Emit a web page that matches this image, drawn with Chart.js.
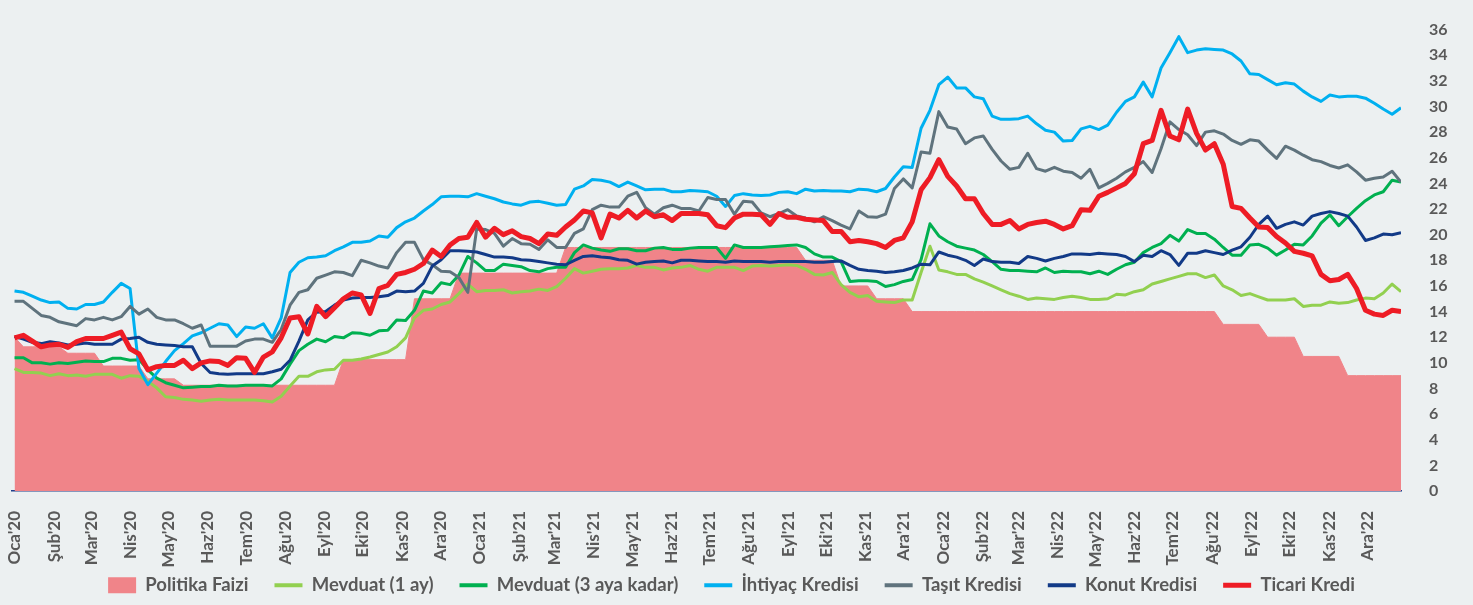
<!DOCTYPE html>
<html>
<head>
<meta charset="utf-8">
<script src="https://cdn.jsdelivr.net/npm/chart.js@4.4.1/dist/chart.umd.min.js"></script>
<style>
  html, body { margin: 0; padding: 0; background: #ECF0F1; }
  #wrap { width: 1473px; height: 605px; position: relative; }
</style>
</head>
<body>
<div id="wrap"><canvas id="grafik"></canvas></div>
<script>
// Haftalık veriler: 3 Oca 2020'den 30 Ara 2022'ye (157 hafta)
const ilkGun = 2; // 1 Oca 2020'den itibaren gün sayısı (3 Oca 2020)

const aylar = [
  "Oca'20", "Şub'20", "Mar'20", "Nis'20", "May'20", "Haz'20", "Tem'20", "Ağu'20", "Eyl'20", "Eki'20", "Kas'20", "Ara'20",
  "Oca'21", "Şub'21", "Mar'21", "Nis'21", "May'21", "Haz'21", "Tem'21", "Ağu'21", "Eyl'21", "Eki'21", "Kas'21", "Ara'21",
  "Oca'22", "Şub'22", "Mar'22", "Nis'22", "May'22", "Haz'22", "Tem'22", "Ağu'22", "Eyl'22", "Eki'22", "Kas'22", "Ara'22"
];

const yTikler = [0, 2, 4, 6, 8, 10, 12, 14, 16, 18, 20, 22, 24, 26, 28, 30, 32, 34, 36];

const politikaFaizi = [
  12, 11.25, 11.25, 11.25, 11.25, 11.25, 10.75, 10.75, 10.75, 10.75,
  9.75, 9.75, 9.75, 9.75, 9.75, 8.75, 8.75, 8.75, 8.75, 8.25,
  8.25, 8.25, 8.25, 8.25, 8.25, 8.25, 8.25, 8.25, 8.25, 8.25,
  8.25, 8.25, 8.25, 8.25, 8.25, 8.25, 8.25, 10.25, 10.25, 10.25,
  10.25, 10.25, 10.25, 10.25, 10.25, 15, 15, 15, 15, 15,
  17, 17, 17, 17, 17, 17, 17, 17, 17, 17,
  17, 17, 19, 19, 19, 19, 19, 19, 19, 19,
  19, 19, 19, 19, 19, 19, 19, 19, 19, 19,
  19, 19, 19, 19, 19, 19, 19, 19, 19, 18,
  18, 18, 18, 16, 16, 16, 16, 15, 15, 15,
  15, 14, 14, 14, 14, 14, 14, 14, 14, 14,
  14, 14, 14, 14, 14, 14, 14, 14, 14, 14,
  14, 14, 14, 14, 14, 14, 14, 14, 14, 14,
  14, 14, 14, 14, 14, 14, 13, 13, 13, 13,
  13, 12, 12, 12, 12, 10.5, 10.5, 10.5, 10.5, 10.5,
  9, 9, 9, 9, 9, 9, 9
];

const mevduat1Ay = [
  9.55, 9.25, 9.25, 9.2, 9.0, 9.15, 9.0, 9.05, 8.95, 9.1, 9.1, 9.1, 8.8, 9.0, 8.95, 8.55, 8.05, 7.35, 7.3, 7.15, 7.1, 7.0, 7.1,
  7.15, 7.1, 7.1, 7.1, 7.1, 7.05, 6.95, 7.4, 8.2, 8.95, 8.95, 9.3, 9.45, 9.5, 10.2, 10.2, 10.3, 10.45, 10.65, 10.85, 11.25, 11.95,
  13.5, 14.1, 14.2, 14.55, 14.75, 15.4, 16.15, 15.55, 15.65, 15.65, 15.7, 15.45, 15.55, 15.6, 15.75, 15.65, 15.95, 16.6, 17.35, 17.0, 17.15, 17.3, 17.35,
  17.35, 17.4, 17.6, 17.45, 17.45, 17.25, 17.4, 17.45, 17.6, 17.3, 17.15, 17.45, 17.45, 17.45, 17.2, 17.55, 17.6, 17.55, 17.6, 17.65, 17.6, 17.3,
  16.9, 16.85, 17.05, 16.1, 15.5, 15.15, 15.25, 14.8, 14.75, 14.7, 14.9, 14.9, 17.05, 19.1, 17.25, 17.1, 16.9, 16.9, 16.55, 16.3, 16.0, 15.7, 15.4,
  15.2, 14.95, 15.05, 15.0, 14.95, 15.1, 15.2, 15.1, 14.95, 14.95, 15.0, 15.35, 15.3, 15.55, 15.7, 16.15, 16.35, 16.55, 16.75, 16.95, 16.95, 16.65,
  16.85, 16.0, 15.7, 15.25, 15.4, 15.15, 14.9, 14.9, 14.9, 15.0, 14.4, 14.5, 14.5, 14.75, 14.65, 14.7, 14.9, 15.05, 15.0, 15.45, 16.15, 15.55
];

const mevduat3Ay = [
  10.4, 10.4, 10.0, 10.0, 9.9, 10.0, 9.95, 10.05, 10.15, 10.1, 10.1, 10.35, 10.35, 10.2, 10.25, 9.45, 8.8, 8.45, 8.25, 8.05, 8.1, 8.15, 8.15,
  8.25, 8.2, 8.2, 8.25, 8.25, 8.25, 8.2, 8.75, 9.9, 10.95, 11.45, 11.85, 11.65, 12.05, 11.95, 12.35, 12.3, 12.15, 12.5, 12.55, 13.35, 13.3,
  14.1, 15.6, 15.45, 16.25, 16.1, 16.85, 18.3, 17.8, 17.2, 17.2, 17.7, 17.6, 17.5, 17.2, 17.1, 17.35, 17.45, 17.45, 18.6, 19.2, 18.95, 18.8, 18.7,
  18.9, 18.9, 18.75, 18.75, 18.95, 19.0, 18.85, 18.85, 18.95, 19.0, 19.0, 19.0, 18.15, 19.2, 19.0, 19.0, 19.0, 19.05, 19.1, 19.15, 19.2, 19.0,
  18.5, 18.25, 18.25, 17.9, 16.35, 16.4, 16.4, 16.35, 15.95, 16.1, 16.35, 16.5, 18.05, 20.85, 19.9, 19.45, 19.1, 18.95, 18.8, 18.45, 17.9, 17.3, 17.2,
  17.2, 17.15, 17.1, 17.4, 17.05, 17.15, 17.1, 17.1, 16.95, 17.15, 16.9, 17.3, 17.65, 17.85, 18.6, 19.0, 19.3, 19.95, 19.5, 20.4, 20.1, 20.1,
  19.65, 19.0, 18.4, 18.4, 19.2, 19.25, 18.95, 18.4, 18.8, 19.25, 19.2, 19.9, 20.9, 21.55, 20.7, 21.4, 22.05, 22.65, 23.1, 23.35, 24.25, 24.1
];

const ihtiyacKredisi = [
  15.6, 15.5, 15.2, 14.9, 14.7, 14.75, 14.25, 14.2, 14.55, 14.55, 14.75, 15.5, 16.2, 15.8, 9.55, 8.3, 9.2, 10.1, 10.95, 11.5, 12.1, 12.35, 12.7,
  13.05, 12.95, 12.05, 12.8, 12.7, 13.05, 11.95, 13.5, 17.05, 17.85, 18.2, 18.25, 18.35, 18.75, 19.05, 19.4, 19.4, 19.5, 19.9, 19.8, 20.55, 21.0,
  21.3, 21.85, 22.35, 22.95, 23.0, 23.0, 22.95, 23.2, 23.0, 22.8, 22.55, 22.4, 22.3, 22.55, 22.6, 22.45, 22.3, 22.35, 23.55, 23.8, 24.3, 24.25, 24.1,
  23.75, 24.1, 23.8, 23.5, 23.55, 23.55, 23.35, 23.35, 23.45, 23.4, 23.35, 23.0, 22.2, 23.05, 23.2, 23.1, 23.05, 23.1, 23.3, 23.35, 23.2, 23.55,
  23.4, 23.45, 23.4, 23.4, 23.35, 23.55, 23.5, 23.35, 23.6, 24.5, 25.3, 25.25, 28.3, 29.7, 31.7, 32.3, 31.45, 31.45, 30.75, 30.6, 29.25, 29.0, 29.0,
  29.05, 29.25, 28.65, 28.15, 28.0, 27.3, 27.35, 28.25, 28.45, 28.2, 28.55, 29.55, 30.4, 30.75, 31.9, 30.75, 33.0, 34.2, 35.45, 34.2, 34.4, 34.5,
  34.45, 34.4, 34.1, 33.55, 32.55, 32.5, 32.1, 31.7, 31.85, 31.75, 31.2, 30.75, 30.4, 30.9, 30.75, 30.8, 30.8, 30.65, 30.25, 29.8, 29.4, 29.9
];

const tasitKredisi = [
  14.8, 14.8, 14.25, 13.7, 13.55, 13.2, 13.05, 12.9, 13.45, 13.35, 13.55, 13.35, 13.6, 14.4, 13.8, 14.2, 13.55, 13.35, 13.35, 13.05, 12.7, 12.95, 11.3,
  11.3, 11.3, 11.3, 11.7, 11.85, 11.85, 11.6, 12.6, 14.5, 15.5, 15.7, 16.6, 16.85, 17.1, 17.05, 16.8, 18.0, 17.8, 17.55, 17.4, 18.6, 19.4,
  19.4, 18.05, 17.65, 17.15, 17.1, 16.65, 15.5, 20.45, 20.4, 20.1, 19.1, 19.7, 19.3, 19.25, 18.85, 19.6, 19.0, 19.0, 20.1, 20.45, 21.95, 22.3, 22.15,
  22.15, 23.0, 23.3, 22.1, 21.6, 22.1, 22.3, 22.05, 22.05, 21.85, 22.9, 22.75, 22.75, 21.6, 22.6, 22.55, 21.7, 21.4, 21.65, 21.95, 21.45, 21.3,
  21.0, 21.4, 21.1, 20.75, 20.45, 21.85, 21.4, 21.35, 21.6, 23.6, 24.35, 23.65, 26.45, 26.35, 29.6, 28.4, 28.25, 27.1, 27.55, 27.7, 26.65, 25.75, 25.1,
  25.25, 26.35, 25.15, 24.95, 25.25, 24.95, 24.85, 24.4, 25.1, 23.65, 24.0, 24.4, 24.9, 25.25, 25.7, 24.85, 26.7, 28.8, 28.2, 27.8, 26.95, 28.0,
  28.1, 27.85, 27.35, 27.05, 27.4, 27.3, 26.6, 25.95, 26.9, 26.6, 26.2, 25.85, 25.7, 25.4, 25.2, 25.45, 24.9, 24.25, 24.4, 24.5, 24.95, 24.1
];

const konutKredisi = [
  12.05, 11.85, 11.6, 11.5, 11.65, 11.55, 11.4, 11.45, 11.55, 11.45, 11.45, 11.45, 11.85, 11.9, 12.0, 11.6, 11.45, 11.4, 11.35, 11.25, 11.25, 9.95, 9.25,
  9.15, 9.1, 9.15, 9.15, 9.15, 9.15, 9.3, 9.5, 10.2, 11.7, 13.35, 13.95, 14.0, 14.5, 14.9, 15.05, 15.1, 15.1, 15.15, 15.25, 15.6, 15.55,
  15.6, 16.2, 17.55, 18.05, 18.75, 18.75, 18.7, 18.65, 18.45, 18.25, 18.25, 18.2, 18.05, 18.0, 17.9, 17.8, 17.7, 17.65, 18.0, 18.3, 18.35, 18.25, 18.2,
  18.05, 18.0, 17.7, 17.85, 17.9, 17.95, 17.8, 18.0, 18.0, 17.95, 17.9, 17.9, 17.85, 17.95, 17.9, 17.9, 17.9, 17.85, 17.9, 17.9, 17.9, 17.9,
  17.85, 17.85, 17.9, 17.95, 17.6, 17.3, 17.2, 17.15, 17.05, 17.1, 17.2, 17.4, 17.7, 17.65, 18.65, 18.4, 18.25, 18.0, 17.6, 18.1, 17.9, 17.85, 17.85,
  17.75, 18.3, 18.15, 17.95, 18.15, 18.3, 18.5, 18.5, 18.45, 18.55, 18.5, 18.45, 18.3, 17.9, 18.4, 18.3, 18.75, 18.45, 17.6, 18.55, 18.55, 18.75,
  18.6, 18.45, 18.8, 19.05, 19.8, 20.8, 21.45, 20.5, 20.8, 21.0, 20.75, 21.45, 21.65, 21.8, 21.65, 21.45, 20.6, 19.55, 19.75, 20.05, 20.0, 20.15
];

const ticariKredi = [
  11.95, 12.15, 11.7, 11.25, 11.4, 11.45, 11.2, 11.65, 11.9, 11.9, 11.9, 12.15, 12.4, 11.1, 10.7, 9.45, 9.7, 9.8, 9.8, 10.2, 9.55, 10.0, 10.15,
  10.1, 9.8, 10.4, 10.35, 9.25, 10.45, 10.85, 11.95, 13.5, 13.6, 12.25, 14.4, 13.6, 14.3, 15.0, 15.45, 15.3, 13.85, 15.8, 16.05, 16.9, 17.05,
  17.3, 17.75, 18.8, 18.3, 19.2, 19.7, 19.8, 20.95, 19.8, 20.5, 20.0, 20.3, 19.85, 19.7, 19.3, 20.05, 19.95, 20.6, 21.15, 21.85, 21.7, 19.75, 21.6,
  21.3, 21.9, 21.3, 21.85, 21.4, 21.55, 21.1, 21.65, 21.65, 21.65, 21.55, 20.7, 20.55, 21.3, 21.6, 21.6, 21.55, 20.8, 21.65, 21.35, 21.35, 21.2,
  21.15, 21.1, 20.25, 20.25, 19.45, 19.55, 19.45, 19.3, 19.0, 19.55, 19.75, 21.0, 23.5, 24.45, 25.85, 24.55, 23.8, 22.8, 22.8, 21.65, 20.8, 20.8, 21.1,
  20.45, 20.8, 20.95, 21.05, 20.8, 20.45, 20.7, 21.95, 21.9, 23.0, 23.3, 23.65, 24.0, 24.75, 27.1, 27.35, 29.7, 27.7, 27.4, 29.8, 27.9, 26.6,
  27.1, 25.5, 22.2, 22.05, 21.3, 20.6, 20.55, 19.85, 19.35, 18.7, 18.55, 18.35, 16.9, 16.4, 16.5, 16.9, 15.8, 14.1, 13.8, 13.7, 14.1, 14.0
];

// ay başlarının 1 Oca 2020'ye göre gün karşılığı
const ayGunleri = aylar.map((a, i) =>
  Math.round((Date.UTC(2020, i, 1) - Date.UTC(2020, 0, 1)) / 86400000));

function noktalar(seri) {
  return seri.map((v, i) => ({ x: ilkGun + 7 * i, y: v }));
}

const yaziRengi = "#595959";
const yaziTipi = "Lato, 'Open Sans', sans-serif";

function cizgi(ad, seri, renk, kalinlik, sira) {
  return {
    label: ad,
    data: noktalar(seri),
    borderColor: renk,
    backgroundColor: renk,
    borderWidth: kalinlik,
    pointRadius: 0,
    pointStyle: "line",
    tension: 0,
    fill: false,
    borderJoinStyle: "round",
    order: sira
  };
}

new Chart(document.getElementById("grafik"), {
  type: "line",
  data: {
    datasets: [
      {
        label: "Politika Faizi",
        data: noktalar(politikaFaizi),
        borderColor: "#F08489",
        backgroundColor: "#F08489",
        borderWidth: 1,
        pointRadius: 0,
        pointStyle: "rect",
        fill: "origin",
        tension: 0,
        order: 7
      },
      cizgi("Mevduat (1 ay)", mevduat1Ay, "#92D050", 3, 6),
      cizgi("Mevduat (3 aya kadar)", mevduat3Ay, "#00B050", 3, 5),
      cizgi("İhtiyaç Kredisi", ihtiyacKredisi, "#00B0F0", 3, 4),
      cizgi("Taşıt Kredisi", tasitKredisi, "#5F737D", 3, 3),
      cizgi("Konut Kredisi", konutKredisi, "#123A87", 3, 2),
      cizgi("Ticari Kredi", ticariKredi, "#EE1C25", 5, 1)
    ]
  },
  options: {
    responsive: true,
    maintainAspectRatio: false,
    animation: false,
    layout: { padding: { top: 17, left: 10, right: 20, bottom: 0.5 } },
    plugins: {
      tooltip: { enabled: false },
      legend: {
        position: "bottom",
        labels: {
          usePointStyle: true,
          pointStyleWidth: 28,
          boxHeight: 16,
          padding: 26,
          color: yaziRengi,
          font: { family: yaziTipi, size: 18.5, weight: "bold" },
          sort: (a, b) => a.datasetIndex - b.datasetIndex,
          // lejanttaki çizgi örnekleri biraz daha kalın
          generateLabels: (chart) =>
            Chart.defaults.plugins.legend.labels.generateLabels(chart).map(l => {
              l.lineWidth = l.datasetIndex === 0 ? 0 : (l.datasetIndex === 6 ? 5 : 4);
              return l;
            })
        }
      }
    },
    scales: {
      x: {
        type: "linear",
        min: 0,
        max: ilkGun + 7 * (politikaFaizi.length - 1),
        z: 1,
        grid: { display: false },
        border: { display: true, color: "#1F3F8A", width: 1.5 },
        afterBuildTicks: (s) => { s.ticks = ayGunleri.map(v => ({ value: v })); },
        afterFit: (s) => {
          s.height = 59;
          // etiketler lejant alanına taşabilsin diye kırpma yok
          s._computeLabelArea = () => undefined;
        },
        ticks: {
          autoSkip: false,
          maxRotation: 90,
          minRotation: 90,
          padding: 12,
          labelOffset: 3,
          color: yaziRengi,
          font: { family: yaziTipi, size: 17, weight: "bold" },
          callback: (v, i) => aylar[i]
        }
      },
      y: {
        position: "right",
        min: 0,
        max: 36,
        grid: { display: false },
        border: { display: false },
        afterBuildTicks: (s) => { s.ticks = yTikler.map(v => ({ value: v })); },
        afterFit: (s) => { s.width = 52; },
        ticks: {
          padding: 20,
          color: yaziRengi,
          font: { family: yaziTipi, size: 16, weight: "bold" }
        }
      }
    }
  }
});
</script>
</body>
</html>
